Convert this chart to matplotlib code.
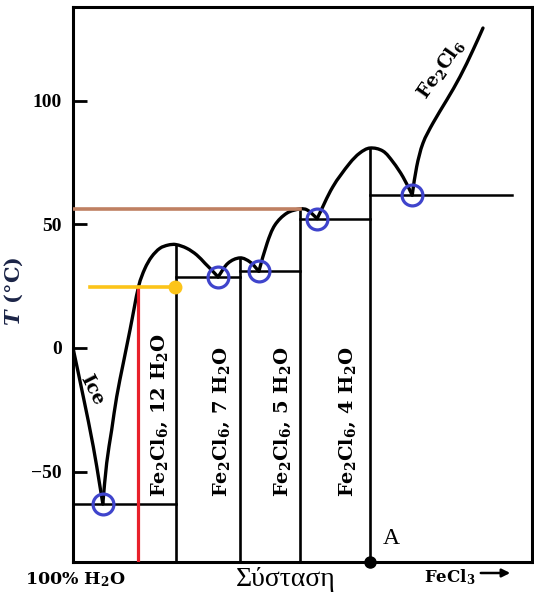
import matplotlib
matplotlib.use('Agg')
import matplotlib.pyplot as plt
import numpy as np
from matplotlib.path import Path
from matplotlib.patches import PathPatch

plt.rcParams['mathtext.fontset'] = 'custom'
plt.rcParams['mathtext.rm'] = 'DejaVu Serif:bold'
plt.rcParams['mathtext.bf'] = 'DejaVu Serif:bold'
plt.rcParams['mathtext.it'] = 'DejaVu Serif:italic:bold'

# composition axis is schematic: 0 = 100% H2O, 100 = right edge
ice_x = [0, 2.24, 4.42, 5.88, 6.5]
ice_T = [0, -19.7, -39.9, -56.0, -63.0]

h12_x = [6.5, 7.34, 8.43, 9.52, 10.96, 12.42, 14.38, 15.69, 17.15, 18.95, 20.76, 22.4, 24.77, 26.95, 28.76, 30.2, 31.6]
h12_T = [-63.0, -46.5, -33.1, -19.7, -6.1, 7.3, 25.5, 32.2, 36.9, 40.3, 41.6, 41.8, 40.3, 37.6, 34.2, 31.5, 28.7]

h7_x = [31.6, 33.8, 36.4, 38.6, 40.5]
h7_T = [28.7, 34.3, 36.4, 34.7, 31.0]

h5_x = [40.5, 42.3, 44.0, 46.6, 49.5, 51.0, 53.2]
h5_T = [31.0, 42.4, 49.7, 54.5, 56.2, 55.8, 52.3]

h4_x = [53.2, 56.6, 60.3, 62.5, 64.7, 67.5, 69.7, 71.9, 73.9]
h4_T = [52.3, 65.1, 74.7, 78.8, 80.8, 79.6, 75.2, 69.1, 61.8]

anh_x = [73.9, 74.88, 76.25, 78.43, 81.42, 84.31, 87.15, 89.32]
anh_T = [61.8, 73.3, 82.8, 90.9, 100.2, 109.6, 120.4, 129.3]

# hydrate compositions and their melting points
hyd_x = [22.4, 36.4, 49.5, 64.7]
hyd_T = [41.8, 36.4, 56.2, 80.8]
hyd_names = ['Fe$_2$Cl$_6$, 12 H$_2$O', 'Fe$_2$Cl$_6$, 7 H$_2$O',
             'Fe$_2$Cl$_6$, 5 H$_2$O', 'Fe$_2$Cl$_6$, 4 H$_2$O']
hyd_label_x = [19.0, 32.5, 45.8, 59.9]

# eutectic lines (x start, x end, T)
eut_x0 = [0, 22.4, 36.4, 49.5, 64.7]
eut_x1 = [22.4, 36.4, 49.5, 64.7, 95.6]
eut_T = [-63.0, 28.7, 31.0, 52.3, 61.8]

# eutectic points (blue circles)
circ_x = [6.5, 31.6, 40.5, 53.2, 73.9]
circ_T = [-63.0, 28.7, 31.0, 52.3, 61.8]

red_x = 14.2
yellow_x = [3.7, 22.2]
yellow_T = 24.6
brown_x = [0, 49.5]
brown_T = 56.2
point_A = 64.7

yticks = [-50, 0, 50, 100]
ytick_labels = ['\u221250', '0', '50', '100']

# rough px per unit, so the curve tangents are taken in screen proportions
SX, SY = 4.59, 2.475


def smooth(xs, ys):
    P = np.column_stack([np.asarray(xs) * SX, np.asarray(ys) * SY])
    n = len(P)
    tang = np.zeros_like(P)
    for i in range(n):
        d = P[min(i + 1, n - 1)] - P[max(i - 1, 0)]
        tang[i] = d / np.hypot(*d)
    verts = [P[0]]
    codes = [Path.MOVETO]
    for i in range(n - 1):
        L = np.hypot(*(P[i + 1] - P[i]))
        verts += [P[i] + tang[i] * L / 3, P[i + 1] - tang[i + 1] * L / 3, P[i + 1]]
        codes += [Path.CURVE4] * 3
    verts = np.array(verts) / [SX, SY]
    return Path(verts, codes)


fig = plt.figure(figsize=(5.34, 5.96), dpi=100)
ax = fig.add_axes([73 / 534, 34 / 596, 459 / 534, 555 / 596])
ax.set_xlim(0, 100)
ax.set_ylim(-86.5, 137.8)

for s in ax.spines.values():
    s.set_linewidth(2.2)
ax.set_xticks([])
ax.set_yticks(yticks, labels=ytick_labels, fontfamily='Liberation Serif',
              fontweight='bold', fontsize=14)
ax.tick_params(axis='y', direction='in', length=10, width=2, pad=8)

ymin = ax.get_ylim()[0]
# hydrate verticals
for x, t in zip(hyd_x, hyd_T):
    ax.plot([x, x], [ymin, t], color='k', lw=1.9, zorder=2)
for x0, x1, t in zip(eut_x0, eut_x1, eut_T):
    ax.plot([x0, x1], [t, t], color='k', lw=1.8, zorder=2)

# liquidus curves
for xs, ys in [(ice_x, ice_T), (h12_x, h12_T), (h7_x, h7_T), (h5_x, h5_T),
               (h4_x, h4_T), (anh_x, anh_T)]:
    ax.add_patch(PathPatch(smooth(xs, ys), fill=False, lw=2.4, edgecolor='k',
                           capstyle='round', zorder=3))

# coloured construction lines
ax.plot([red_x, red_x], [ymin, yellow_T], color='#e8202a', lw=2.3, zorder=4)
ax.plot(yellow_x, [yellow_T, yellow_T], color='#fcc419', lw=2.6, zorder=4)
ax.plot(yellow_x[1], yellow_T, 'o', color='#fcc419', ms=9, zorder=5)
ax.plot(brown_x, [brown_T, brown_T], color='#bf8062', lw=2.6, zorder=4)

ax.plot(circ_x, circ_T, 'o', mfc='none', mec='#3f44cc', ms=15, mew=2.3, zorder=6)
ax.plot(point_A, ymin, 'o', color='k', ms=8, clip_on=False, zorder=7)

for x, name in zip(hyd_label_x, hyd_names):
    ax.text(x, -60.2, name, rotation=90, ha='center', va='bottom',
            fontfamily='DejaVu Serif', fontweight='bold', fontsize=14)
ax.text(4.1, -17.0, 'Ice', rotation=-63, ha='center', va='center',
        fontfamily='DejaVu Serif', fontweight='bold', fontsize=13.5)
ax.text(80.2, 112.7, 'Fe$_2$Cl$_6$', rotation=55, ha='center', va='center',
        fontfamily='DejaVu Serif', fontweight='bold', fontsize=13.5)
ax.text(69.3, -77.2, 'A', ha='center', va='center',
        fontfamily='Liberation Serif', fontsize=17)

ax.set_ylabel('$T$ (°C)', fontfamily='DejaVu Serif', fontweight='bold',
              fontsize=15, color='#1b2447')
ax.yaxis.set_label_coords(-0.105, 0.487)

fig.text(75 / 534, 1 - 580 / 596, '100% H$_2$O', ha='center', va='center',
         fontfamily='DejaVu Serif', fontweight='bold', fontsize=12.5)
fig.text(286 / 534, 1 - 580 / 596, 'Σύσταση', ha='center', va='center',
         fontfamily='Liberation Serif', fontsize=20)
fig.text(450 / 534, 1 - 577 / 596, 'FeCl$_3$', ha='center', va='center',
         fontfamily='DejaVu Serif', fontweight='bold', fontsize=12)
ax.annotate('', xy=(513, 596 - 573), xytext=(478, 596 - 573),
            xycoords='figure pixels', textcoords='figure pixels',
            arrowprops=dict(arrowstyle='-|>', color='k', lw=1.8, mutation_scale=12))

fig.savefig('out.png', dpi=100)
